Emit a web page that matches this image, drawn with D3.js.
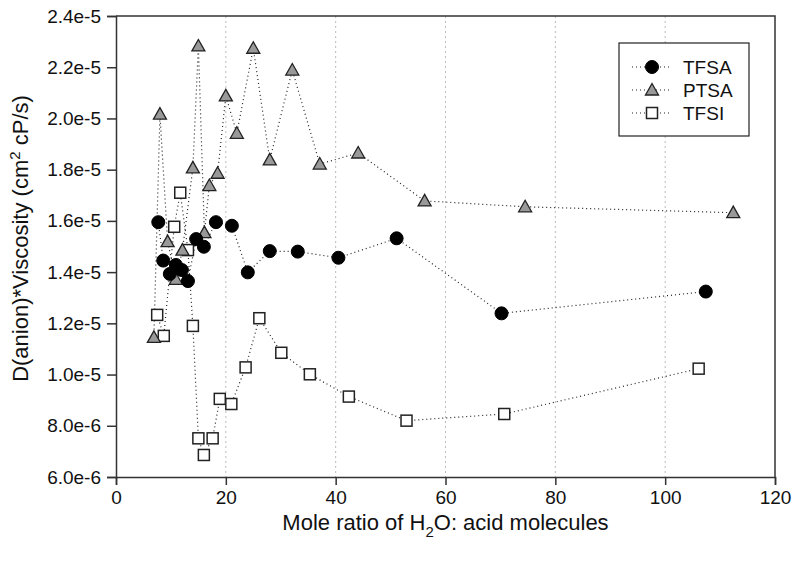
<!DOCTYPE html>
<html>
<head>
<meta charset="utf-8">
<script src="https://cdn.jsdelivr.net/npm/d3@7"></script>
<style>
  body { margin: 0; background: #fff; }
  text { font-family: Arial, "Liberation Sans", Helvetica, sans-serif; }
</style>
</head>
<body>
<div id="chart"></div>
<script>
// set the dimensions and margins of the graph
var margin = {top: 16, right: 25, bottom: 89, left: 116},
  width = 800 - margin.left - margin.right,
  height = 566 - margin.top - margin.bottom;

// data (x = mole ratio, y = D*viscosity)
const tfsaX = [7.7, 8.6, 9.8, 10.9, 12.0, 13.1, 14.6, 16.0, 18.2, 21.1, 24.0, 28.0, 33.1, 40.5, 51.1, 70.2, 107.4];
const tfsaY = [15.95e-6, 14.45e-6, 13.93e-6, 14.28e-6, 14.08e-6, 13.65e-6, 15.29e-6, 14.99e-6, 15.95e-6, 15.81e-6,
  13.99e-6, 14.82e-6, 14.80e-6, 14.56e-6, 15.32e-6, 12.39e-6, 13.24e-6];

const ptsaX = [6.9, 8.0, 9.4, 10.9, 12.1, 14.0, 15.0, 16.1, 17.0, 18.5, 20.0, 22.0, 25.0, 28.0, 32.1, 37.1, 44.1, 56.2, 74.5, 112.4];
const ptsaY = [11.45e-6, 20.17e-6, 15.19e-6, 13.72e-6, 14.86e-6, 18.07e-6, 22.83e-6, 15.54e-6, 17.38e-6, 17.86e-6,
  20.88e-6, 19.42e-6, 22.74e-6, 18.38e-6, 21.89e-6, 18.22e-6, 18.65e-6, 16.78e-6, 16.55e-6, 16.32e-6];

const tfsiX = [7.5, 8.7, 10.6, 11.7, 13.1, 14.0, 15.0, 16.0, 17.6, 18.9, 21.0, 23.6, 26.1, 30.1, 35.3, 42.4, 52.9, 70.7, 106.1];
const tfsiY = [12.33e-6, 11.51e-6, 15.77e-6, 17.10e-6, 14.86e-6, 11.90e-6, 7.51e-6, 6.86e-6, 7.51e-6, 9.05e-6,
  8.85e-6, 10.28e-6, 12.20e-6, 10.85e-6, 10.01e-6, 9.14e-6, 8.20e-6, 8.46e-6, 10.23e-6];

const xTicks = [0, 20, 40, 60, 80, 100, 120];
const yTicks = [6e-6, 8e-6, 10e-6, 12e-6, 14e-6, 16e-6, 18e-6, 20e-6, 22e-6, 24e-6];
const seriesNames = ["TFSA", "PTSA", "TFSI"];

var svg = d3.select("#chart")
.append("svg")
  .attr("width", width + margin.left + margin.right)
  .attr("height", height + margin.top + margin.bottom)
.append("g")
  .attr("transform", "translate(" + margin.left + "," + margin.top + ")");

var x = d3.scaleLinear().domain([0, 120]).range([0, width]);
var y = d3.scaleLinear().domain([6e-6, 24e-6]).range([height, 0]);

// vertical dotted grid
svg.selectAll(".grid")
  .data(xTicks.slice(1, -1))
  .enter()
  .append("line")
    .attr("x1", d => x(d)).attr("x2", d => x(d))
    .attr("y1", 0).attr("y2", height)
    .attr("stroke", "#bbb")
    .attr("stroke-width", 1)
    .attr("stroke-dasharray", "2,3");

// axes
var xAxis = svg.append("g")
  .attr("transform", "translate(0," + height + ")")
  .call(d3.axisBottom(x).tickValues(xTicks).tickSize(8).tickPadding(6).tickFormat(d3.format("d")));
var yAxis = svg.append("g")
  .call(d3.axisLeft(y).tickValues(yTicks).tickSize(9).tickPadding(6).tickFormat(d3.format(".1e")));

[xAxis, yAxis].forEach(function(a) {
  a.attr("font-size", null).attr("font-family", null);
  a.select(".domain").attr("stroke", "#333").attr("stroke-width", 1.5);
  a.selectAll(".tick line").attr("stroke", "#333").attr("stroke-width", 1.5);
  a.selectAll(".tick text").attr("fill", "#111").style("font-size", "19px");
});

// top and right frame
svg.append("path")
  .attr("d", "M0,0H" + width + "V" + height)
  .attr("fill", "none")
  .attr("stroke", "#333")
  .attr("stroke-width", 1.5);

// series
var series = [
  {name: "TFSA", xs: tfsaX, ys: tfsaY, shape: "circle"},
  {name: "PTSA", xs: ptsaX, ys: ptsaY, shape: "triangle"},
  {name: "TFSI", xs: tfsiX, ys: tfsiY, shape: "square"}
];

var line = d3.line().x(d => x(d[0])).y(d => y(d[1]));

function drawMarker(g, shape, cx, cy) {
  if (shape === "circle") {
    g.append("circle").attr("cx", cx).attr("cy", cy).attr("r", 6.5)
      .attr("fill", "#000").attr("stroke", "#000");
  } else if (shape === "triangle") {
    g.append("path")
      .attr("d", "M" + cx + "," + (cy - 6.5) + "L" + (cx + 6.5) + "," + (cy + 5) + "L" + (cx - 6.5) + "," + (cy + 5) + "Z")
      .attr("fill", "#999").attr("stroke", "#222").attr("stroke-width", 1.3);
  } else {
    g.append("rect").attr("x", cx - 5.5).attr("y", cy - 5.5).attr("width", 11).attr("height", 11)
      .attr("fill", "#fff").attr("stroke", "#222").attr("stroke-width", 1.5);
  }
}

// lines first, then markers in reverse order so TFSA sits on top
series.forEach(function(s) {
  var pts = s.xs.map((v, i) => [v, s.ys[i]]);
  svg.append("path")
    .datum(pts)
    .attr("d", line)
    .attr("fill", "none")
    .attr("stroke", "#222")
    .attr("stroke-width", 1.2)
    .attr("stroke-dasharray", "1,3");
});
series.slice().reverse().forEach(function(s) {
  var g = svg.append("g");
  s.xs.forEach(function(v, i) {
    drawMarker(g, s.shape, x(v), y(s.ys[i]));
  });
});

// legend
var legend = svg.append("g").attr("transform", "translate(" + (619 - margin.left) + "," + (43 - margin.top) + ")");
legend.append("rect")
  .attr("width", 130).attr("height", 93)
  .attr("fill", "#fff").attr("stroke", "#222").attr("stroke-width", 1.2);
series.forEach(function(s, i) {
  var ly = 24 + i * 23;
  legend.append("line")
    .attr("x1", 13).attr("x2", 52).attr("y1", ly).attr("y2", ly)
    .attr("stroke", "#222").attr("stroke-width", 1.2).attr("stroke-dasharray", "1,3");
  drawMarker(legend, s.shape, 33, ly);
  legend.append("text")
    .attr("x", 64).attr("y", ly + 7)
    .style("font-size", "19px")
    .attr("fill", "#111")
    .text(seriesNames[i]);
});

// axis titles
var xt = svg.append("text")
  .attr("x", width / 2).attr("y", height + 53)
  .attr("text-anchor", "middle")
  .style("font-size", "22px")
  .attr("fill", "#111");
xt.append("tspan").text("Mole ratio of H");
xt.append("tspan").attr("dy", 7).style("font-size", "15px").text("2");
xt.append("tspan").attr("dy", -7).text("O: acid molecules");

var yt = svg.append("text")
  .attr("transform", "translate(" + (-88) + "," + (height / 2 - 8) + ") rotate(-90)")
  .attr("text-anchor", "middle")
  .style("font-size", "22px")
  .attr("fill", "#111");
yt.append("tspan").text("D(anion)*Viscosity (cm");
yt.append("tspan").attr("dy", -8).style("font-size", "15px").text("2");
yt.append("tspan").attr("dy", 8).text(" cP/s)");
</script>
</body>
</html>
